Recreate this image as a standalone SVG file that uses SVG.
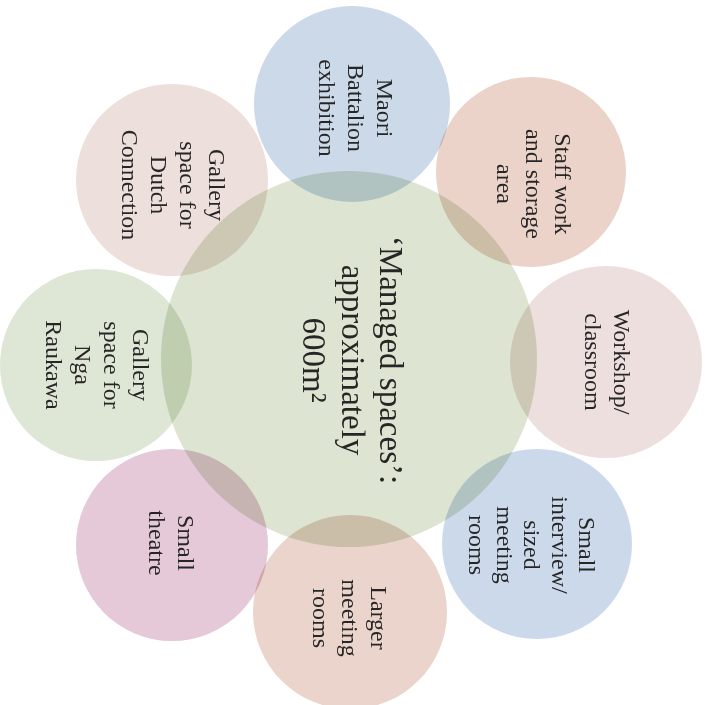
<svg xmlns="http://www.w3.org/2000/svg" width="707" height="705" viewBox="0 0 707 705">
  <style>
    .c { mix-blend-mode: multiply; }
    .t { font-family: "Liberation Serif", "DejaVu Serif", serif; font-size: 24px; fill: #262626; text-anchor: middle; }
    .tc { font-family: "Liberation Serif", "DejaVu Serif", serif; font-size: 33px; fill: #262626; text-anchor: middle; }
  </style>
  <rect width="707" height="705" fill="#ffffff"/>
  <g id="node-maori">
    <circle class="c" cx="352" cy="104" r="98" fill="#ccd9e9"/>
  </g>
  <g id="node-staff">
    <circle class="c" cx="531" cy="172" r="95" fill="#ebd3ca"/>
  </g>
  <g id="node-workshop">
    <circle class="c" cx="606" cy="362" r="96" fill="#eddfdd"/>
  </g>
  <g id="node-interview">
    <circle class="c" cx="537" cy="544" r="95" fill="#ccd9eb"/>
  </g>
  <g id="node-larger">
    <circle class="c" cx="350" cy="612" r="97" fill="#ead4cc"/>
  </g>
  <g id="node-theatre">
    <circle class="c" cx="172" cy="545" r="96" fill="#e5c9d8"/>
  </g>
  <g id="node-nga">
    <circle class="c" cx="96" cy="365" r="96" fill="#dee6d6"/>
  </g>
  <g id="node-dutch">
    <circle class="c" cx="172" cy="180" r="96" fill="#eddfdb"/>
  </g>
  <g id="node-center">
    <circle class="c" cx="349" cy="359" r="188" fill="#dde5d2"/>
  </g>
  <g id="labels">
    <text class="t" transform="translate(356,108) rotate(90)"><tspan x="0" y="-21">Maori</tspan><tspan x="0" y="8">Battalion</tspan><tspan x="0" y="37">exhibition</tspan></text>
    <text class="t" transform="translate(534,184) rotate(90)"><tspan x="0" y="-21">Staff work</tspan><tspan x="0" y="8">and storage</tspan><tspan x="0" y="37">area</tspan></text>
    <text class="t" transform="translate(607,362) rotate(90)"><tspan x="0" y="-6.5">Workshop/</tspan><tspan x="0" y="22.5">classroom</tspan></text>
    <text class="t" transform="translate(532,545) rotate(90)"><tspan x="0" y="-47">Small</tspan><tspan x="0" y="-19.5">interview/</tspan><tspan x="0" y="8">sized</tspan><tspan x="0" y="35.5">meeting</tspan><tspan x="0" y="63">rooms</tspan></text>
    <text class="t" transform="translate(350,618) rotate(90)"><tspan x="0" y="-21">Larger</tspan><tspan x="0" y="8">meeting</tspan><tspan x="0" y="37">rooms</tspan></text>
    <text class="t" transform="translate(171,543) rotate(90)"><tspan x="0" y="-6.5">Small</tspan><tspan x="0" y="22.5">theatre</tspan></text>
    <text class="t" transform="translate(97,365) rotate(90)"><tspan x="0" y="-35.5">Gallery</tspan><tspan x="0" y="-6.5">space for</tspan><tspan x="0" y="22.5">Nga</tspan><tspan x="0" y="51.5">Raukawa</tspan></text>
    <text class="t" transform="translate(173,185) rotate(90)"><tspan x="0" y="-35.5">Gallery</tspan><tspan x="0" y="-6.5">space for</tspan><tspan x="0" y="22.5">Dutch</tspan><tspan x="0" y="51.5">Connection</tspan></text>
    <text class="tc" transform="translate(350,360) rotate(90)"><tspan x="0" y="-30">‘Managed spaces’:</tspan><tspan x="0" y="8.5">approximately</tspan><tspan x="0" y="47">600m²</tspan></text>
  </g>
</svg>
